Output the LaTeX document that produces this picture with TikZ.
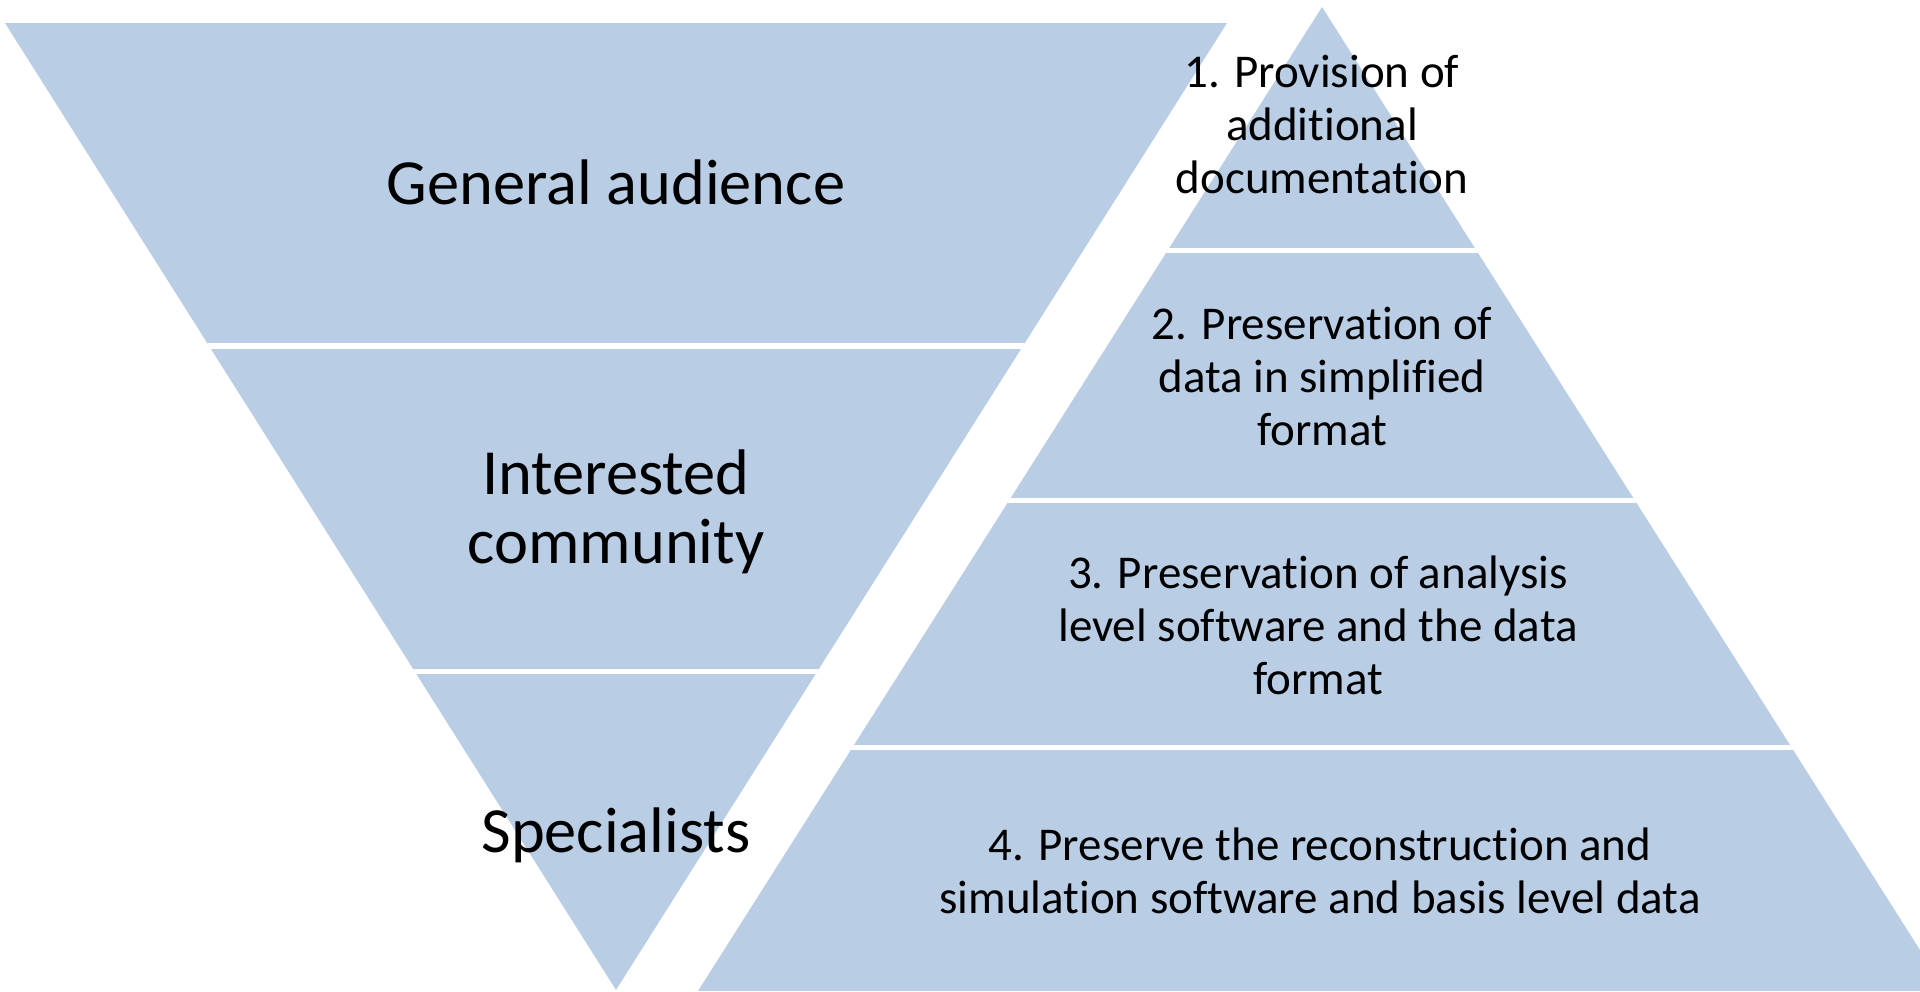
\documentclass[tikz,border=0pt]{standalone}
\usepackage{fontspec}
\setmainfont{Carlito}[RawFeature={-liga}]
\definecolor{band}{HTML}{B9CDE5}
\begin{document}
\begin{tikzpicture}[x=0.5pt,y=-0.5pt,
  lbl/.style={align=center, font=\fontsize{23.5}{26.5}\selectfont, inner sep=0pt},
  big/.style={align=center, font=\fontsize{32.2}{34.5}\selectfont, inner sep=0pt},
  gap/.style={white, line width=2.75pt}]
\useasboundingbox (0,0) rectangle (1920,991);
% left inverted triangle
\begin{scope}
  \clip (5,23) -- (1227,23) -- (616,990) -- cycle;
  \fill[band] (0,0) rectangle (1920,991);
  \draw[gap] (0,346) -- (1920,346);
  \draw[gap] (0,671.5) -- (1920,671.5);
\end{scope}
% right pyramid
\begin{scope}
  \clip (0,0) rectangle (1920,991);
  \clip (1322,7) -- (698,991) -- (1946,991) -- cycle;
  \fill[band] (0,0) rectangle (1920,991);
  \draw[gap] (0,250.5) -- (1920,250.5);
  \draw[gap] (0,500.5) -- (1920,500.5);
  \draw[gap] (0,747.5) -- (1920,747.5);
\end{scope}
% labels
\node[big] (ga) at (616,182) {General audience};
\node[big] (ic) at (616,512) {Interested\\community};
\node[big] (sp) at (616,835) {Specialists};
\node[lbl] (p1) at (1322,124) {1. Provision of\\additional\\documentation};
\node[lbl] (p2) at (1322,376) {2. Preservation of\\data in simplified\\format};
\node[lbl] (p3) at (1318,625) {3. Preservation of analysis\\level software and the data\\format};
\node[lbl] (p4) at (1320,871) {4. Preserve the reconstruction and\\simulation software and basis level data};
\end{tikzpicture}
\end{document}
